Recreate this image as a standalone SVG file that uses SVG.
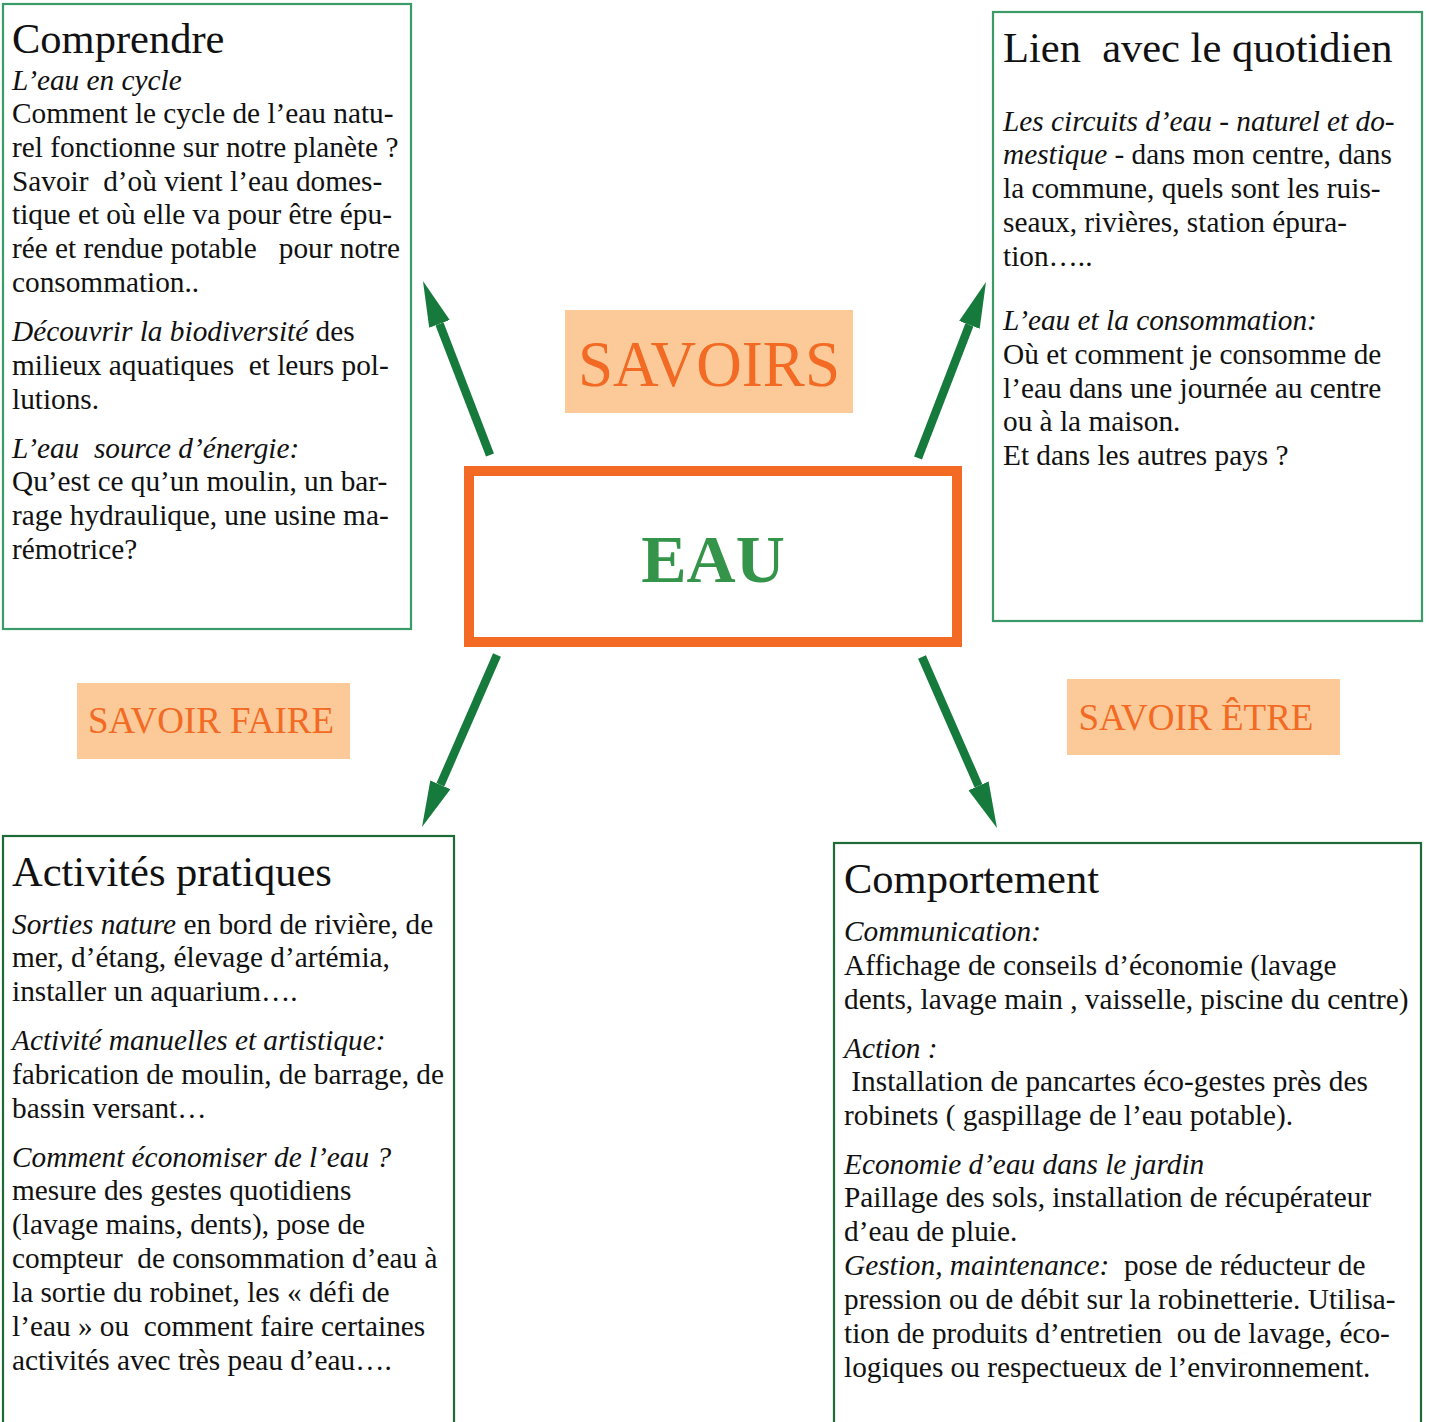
<svg xmlns="http://www.w3.org/2000/svg" width="1429" height="1422" viewBox="0 0 1429 1422">
<defs>
<style>
.box{fill:#fff;stroke-width:2.2}
.top{stroke:#3a9a68}
.bot{stroke:#1e6b37}
.t{font-family:"Liberation Serif","Times New Roman",serif;fill:#111;white-space:pre}
.h{font-size:42.5px}
.b{font-size:29.3px}
.i{font-style:italic}
.lab{fill:#fbca98}
.lt{font-family:"Liberation Serif","Times New Roman",serif;fill:#f26a24;text-anchor:middle}
.arr{stroke:#157a3c;stroke-width:8.5;fill:none;marker-end:url(#ah)}
</style>
<marker id="ah" viewBox="0 -11 46 22" markerWidth="46" markerHeight="22" refX="0" refY="0" orient="auto" markerUnits="userSpaceOnUse">
<path d="M0,-11 L46,0 L0,11 z" fill="#157a3c"/>
</marker>
</defs>
<rect width="1429" height="1422" fill="#fff"/>

<g id="comprendre">
<rect class="box top" x="3" y="4" width="408" height="625"/>
<text class="t h" x="12" y="53">Comprendre</text>
<text class="t b" x="12" transform="translate(0,1)"><tspan class="i" y="89">L’eau en cycle</tspan><tspan x="12" y="122">Comment le cycle de l’eau natu-</tspan><tspan x="12" y="156">rel fonctionne sur notre planète ?</tspan><tspan x="12" y="190">Savoir  d’où vient l’eau domes-</tspan><tspan x="12" y="223">tique et où elle va pour être épu-</tspan><tspan x="12" y="257">rée et rendue potable   pour notre</tspan><tspan x="12" y="291">consommation..</tspan><tspan x="12" y="340" class="i">Découvrir la biodiversité</tspan><tspan> des</tspan><tspan x="12" y="374">milieux aquatiques  et leurs pol-</tspan><tspan x="12" y="408">lutions.</tspan><tspan x="12" y="457" class="i">L’eau  source d’énergie:</tspan><tspan x="12" y="490">Qu’est ce qu’un moulin, un bar-</tspan><tspan x="12" y="524">rage hydraulique, une usine ma-</tspan><tspan x="12" y="558">rémotrice?</tspan></text>
</g>

<g id="quotidien">
<rect class="box top" x="993" y="12" width="429" height="609"/>
<text class="t h" x="1003" y="62">Lien  avec le quotidien</text>
<text class="t b" x="1003" transform="translate(0,1)"><tspan class="i" y="130">Les circuits d’eau - naturel et do-</tspan><tspan x="1003" y="163" class="i">mestique</tspan><tspan> - dans mon centre, dans</tspan><tspan x="1003" y="197">la commune, quels sont les ruis-</tspan><tspan x="1003" y="231">seaux, rivières, station épura-</tspan><tspan x="1003" y="265">tion…..</tspan><tspan x="1003" y="329" class="i">L’eau et la consommation:</tspan><tspan x="1003" y="363">Où et comment je consomme de</tspan><tspan x="1003" y="397">l’eau dans une journée au centre</tspan><tspan x="1003" y="430">ou à la maison.</tspan><tspan x="1003" y="464">Et dans les autres pays ?</tspan></text>
</g>

<g id="activites">
<rect class="box bot" x="3" y="836" width="451" height="600"/>
<text class="t h" x="12" y="886">Activités pratiques</text>
<text class="t b" x="12" transform="translate(0,1)"><tspan class="i" y="933">Sorties nature</tspan><tspan> en bord de rivière, de</tspan><tspan x="12" y="966">mer, d’étang, élevage d’artémia,</tspan><tspan x="12" y="1000">installer un aquarium….</tspan><tspan x="12" y="1049" class="i">Activité manuelles et artistique:</tspan><tspan x="12" y="1083">fabrication de moulin, de barrage, de</tspan><tspan x="12" y="1117">bassin versant…</tspan><tspan x="12" y="1166" class="i">Comment économiser de l’eau ?</tspan><tspan x="12" y="1199">mesure des gestes quotidiens</tspan><tspan x="12" y="1233">(lavage mains, dents), pose de</tspan><tspan x="12" y="1267">compteur  de consommation d’eau à</tspan><tspan x="12" y="1301">la sortie du robinet, les « défi de</tspan><tspan x="12" y="1335">l’eau » ou  comment faire certaines</tspan><tspan x="12" y="1369">activités avec très peau d’eau….</tspan></text>
</g>

<g id="comportement">
<rect class="box bot" x="834" y="843" width="587" height="600"/>
<text class="t h" x="844" y="893">Comportement</text>
<text class="t b" x="844" transform="translate(0,1)"><tspan class="i" y="940">Communication:</tspan><tspan x="844" y="974">Affichage de conseils d’économie (lavage</tspan><tspan x="844" y="1008">dents, lavage main , vaisselle, piscine du centre)</tspan><tspan x="844" y="1057" class="i">Action :</tspan><tspan x="844" y="1090"> Installation de pancartes éco-gestes près des</tspan><tspan x="844" y="1124">robinets ( gaspillage de l’eau potable).</tspan><tspan x="844" y="1173" class="i">Economie d’eau dans le jardin</tspan><tspan x="844" y="1206">Paillage des sols, installation de récupérateur</tspan><tspan x="844" y="1240">d’eau de pluie.</tspan><tspan x="844" y="1274" class="i">Gestion, maintenance:</tspan><tspan>  pose de réducteur de</tspan><tspan x="844" y="1308">pression ou de débit sur la robinetterie. Utilisa-</tspan><tspan x="844" y="1342">tion de produits d’entretien  ou de lavage, éco-</tspan><tspan x="844" y="1376">logiques ou respectueux de l’environnement.</tspan></text>
</g>

<g id="eau">
<rect x="469" y="471" width="488" height="171" fill="#fff" stroke="#f26a24" stroke-width="10"/>
<text x="713" y="582" font-family="Liberation Serif,Times New Roman,serif" font-weight="bold" font-size="68" fill="#34944a" text-anchor="middle">EAU</text>
</g>

<g id="savoirs">
<rect class="lab" x="565" y="310" width="288" height="103"/>
<text class="lt" x="709" y="386" font-size="66" textLength="262" lengthAdjust="spacingAndGlyphs">SAVOIRS</text>
</g>

<g id="savoir-faire">
<rect class="lab" x="77" y="683" width="273" height="76"/>
<text class="lt" x="211" y="733" font-size="38" textLength="246" lengthAdjust="spacingAndGlyphs">SAVOIR FAIRE</text>
</g>

<g id="savoir-etre">
<rect class="lab" x="1067" y="679" width="273" height="76"/>
<text class="lt" x="1196" y="730" font-size="38" textLength="235" lengthAdjust="spacingAndGlyphs">SAVOIR ÊTRE</text>
</g>

<g id="connectors">
<line class="arr" x1="490" y1="455" x2="439.5" y2="323.9"/>
<line class="arr" x1="918" y1="458" x2="969.4" y2="324.9"/>
<line class="arr" x1="497" y1="655" x2="440.4" y2="784.8"/>
<line class="arr" x1="922" y1="657" x2="978.5" y2="785.9"/>
</g>
</svg>
